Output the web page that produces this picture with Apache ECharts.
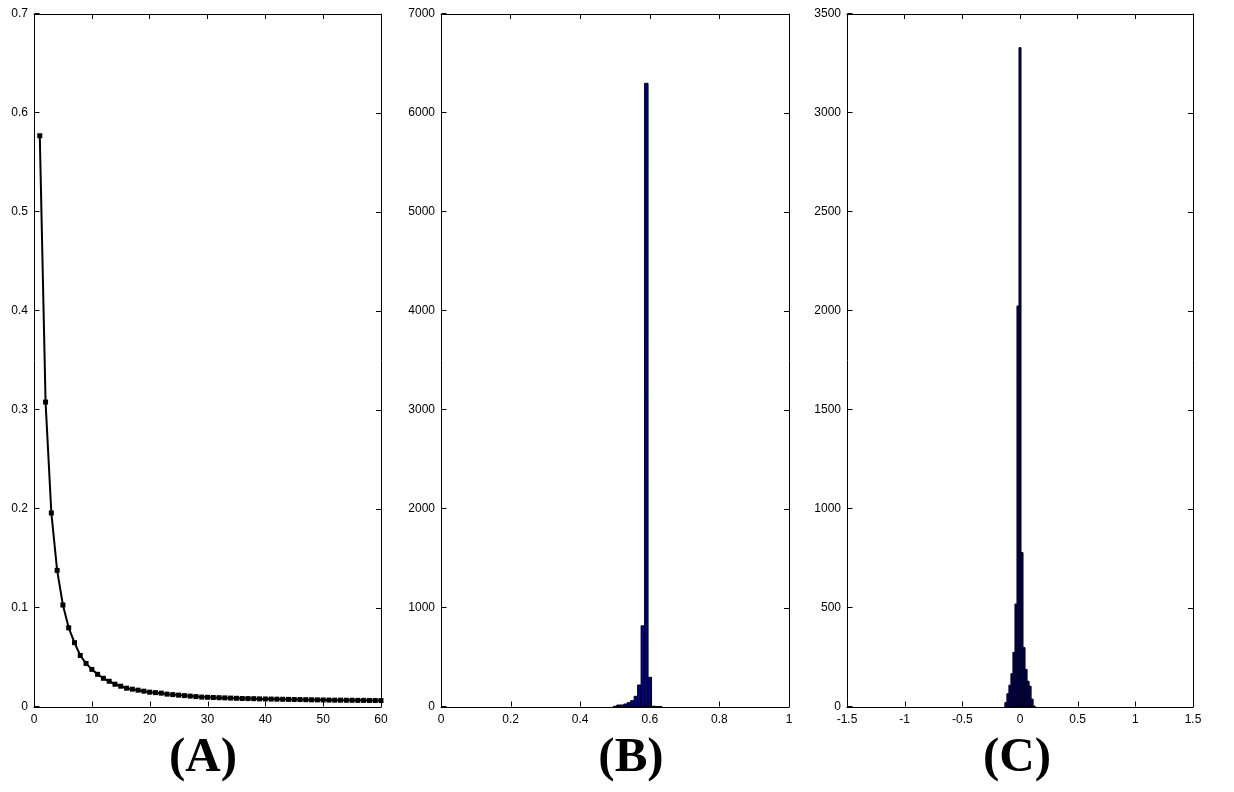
<!DOCTYPE html>
<html>
<head>
<meta charset="utf-8">
<script src="https://cdn.jsdelivr.net/npm/echarts@6/dist/echarts.min.js"></script>
<style>html,body{margin:0;padding:0;background:#fff;}#c{width:1234px;height:792px;}</style>
</head>
<body>
<div id="c"></div>
<script>
// Panel A: decay curve
const aX = [];
for (let i = 1; i <= 60; i++) aX.push(i);
const aY = [0.577,0.308,0.196,0.138,0.103,0.080,0.065,0.052,0.044,0.038,
            0.033,0.029,0.026,0.023,0.021,0.019,0.018,0.017,0.016,0.015,
            0.0145,0.014,0.013,0.0125,0.012,0.0115,0.011,0.0105,0.010,0.0098,
            0.0096,0.0094,0.0092,0.0090,0.0088,0.0086,0.0085,0.0084,0.0082,0.0081,
            0.0080,0.0079,0.0078,0.0077,0.0076,0.0075,0.0074,0.0073,0.0072,0.0071,
            0.0070,0.0069,0.0069,0.0068,0.0068,0.0067,0.0067,0.0066,0.0066,0.0065];

// Panel B: histogram (bin centers, counts)
const bBinWidth = 0.01;
const bCenters = [0.50,0.51,0.52,0.53,0.54,0.55,0.56,0.57,0.58,0.59,0.60,0.61,0.62,0.63];
const bCounts  = [7,20,20,30,44,64,108,222,820,6300,300,8,5,5];

// Panel C: histogram (bin centers, counts)
const cBinWidth = 0.0175;
const cCenters = [-0.1225,-0.105,-0.0875,-0.07,-0.0525,-0.035,-0.0175,0,0.0175,0.035,0.0525,0.07,0.0875,0.105,0.1225];
const cCounts  = [22,67,110,168,276,520,2025,3330,780,300,190,130,105,40,5];

// Tick values
const aXTicks = [0,10,20,30,40,50,60];
const aYTicks = [0,0.1,0.2,0.3,0.4,0.5,0.6,0.7];
const bXTicks = [0,0.2,0.4,0.6,0.8,1];
const bYTicks = [0,1000,2000,3000,4000,5000,6000,7000];
const cXTicks = [-1.5,-1,-0.5,0,0.5,1,1.5];
const cYTicks = [0,500,1000,1500,2000,2500,3000,3500];

const panelLabels = ['(A)', '(B)', '(C)'];

const rects = [
  {left: 34, right: 853, top: 14, bottom: 85},
  {left: 441, right: 445, top: 14, bottom: 85},
  {left: 847, right: 41, top: 14, bottom: 85}
];
const xRanges = [[0, 60, 10], [0, 1, 0.2], [-1.5, 1.5, 0.5]];
const yRanges = [[0, 0.7, 0.1], [0, 7000, 1000], [0, 3500, 500]];
const xTickSets = [aXTicks, bXTicks, cXTicks];
const yTickSets = [aYTicks, bYTicks, cYTicks];
const TICK = 5;

const fmt = v => String(Math.round(v * 1000) / 1000);
function labelFont(margin) {
  return {show: true, margin, color: '#000', fontFamily: 'Liberation Sans, Arial, sans-serif', fontSize: 12, formatter: fmt};
}
function axis(gi, r, position, labelled, withTicks) {
  return {type: 'value', gridIndex: gi, min: r[0], max: r[1], interval: r[2], position,
    axisLine: {show: true, onZero: false, lineStyle: {color: '#000', width: 1}},
    splitLine: {show: false},
    axisTick: {show: withTicks, inside: true, length: TICK, lineStyle: {color: '#000', width: 1}},
    axisLabel: labelled ? labelFont(position === 'bottom' ? 7 : 6) : {show: false}};
}

const grid = [], xAxis = [], yAxis = [];
for (let p = 0; p < 3; p++) {
  grid.push(Object.assign({show: false}, rects[p]));
  xAxis.push(axis(p, xRanges[p], 'bottom', true, false));
  xAxis.push(axis(p, xRanges[p], 'top', false, true));
  yAxis.push(axis(p, yRanges[p], 'left', true, false));
  yAxis.push(axis(p, yRanges[p], 'right', false, true));
}

function histRender(binW) {
  return function (params, api) {
    const x = api.value(0), y = api.value(1);
    const p0 = api.coord([x - binW / 2, y]);
    const p1 = api.coord([x + binW / 2, 0]);
    return {
      type: 'rect',
      shape: {x: p0[0], y: p0[1], width: p1[0] - p0[0], height: p1[1] - p0[1]},
      style: {fill: '#00008F', stroke: '#000', lineWidth: 1}
    };
  };
}
// inward ticks for bottom (dir 'x') and left (dir 'y') sides
function tickRender(dir) {
  return function (params, api) {
    const p = api.coord([api.value(0), api.value(1)]);
    let shape;
    if (dir === 'x') {
      const x = Math.round(p[0]) + 0.5, y = Math.round(p[1]) - 0.5;
      shape = {x1: x, y1: y, x2: x, y2: y - TICK};
    } else {
      const x = Math.round(p[0]) + 0.5, y = Math.round(p[1]) - 0.5;
      shape = {x1: x, y1: y, x2: x + TICK, y2: y};
    }
    return {type: 'line', shape, style: {stroke: '#000', lineWidth: 1}};
  };
}

const series = [
  {type: 'line', xAxisIndex: 0, yAxisIndex: 0,
   data: aX.map((x, i) => [x, aY[i]]),
   symbol: 'rect', symbolSize: 5, showSymbol: true,
   lineStyle: {color: '#000', width: 2},
   itemStyle: {color: '#000'}},
  {type: 'custom', xAxisIndex: 2, yAxisIndex: 2,
   renderItem: histRender(bBinWidth),
   encode: {x: 0, y: 1},
   data: bCenters.map((c, i) => [c, bCounts[i]])},
  {type: 'custom', xAxisIndex: 4, yAxisIndex: 4,
   renderItem: histRender(cBinWidth),
   encode: {x: 0, y: 1},
   data: cCenters.map((c, i) => [c, cCounts[i]])}
];
for (let p = 0; p < 3; p++) {
  series.push({type: 'custom', xAxisIndex: 2 * p, yAxisIndex: 2 * p, silent: true, z: 5,
    renderItem: tickRender('x'), encode: {x: 0, y: 1},
    data: xTickSets[p].map(v => [v, yRanges[p][0]])});
  series.push({type: 'custom', xAxisIndex: 2 * p, yAxisIndex: 2 * p, silent: true, z: 5,
    renderItem: tickRender('y'), encode: {x: 0, y: 1},
    data: yTickSets[p].map(v => [xRanges[p][0], v])});
}

const chart = echarts.init(document.getElementById('c'), null, {renderer: 'canvas'});
const option = {
  animation: false,
  backgroundColor: '#fff',
  grid, xAxis, yAxis,
  title: [
    {text: panelLabels[0], left: 198, top: 729},
    {text: panelLabels[1], left: 626, top: 729},
    {text: panelLabels[2], left: 1012, top: 729}
  ].map(t => Object.assign(t, {textAlign: 'center',
    textStyle: {fontFamily: 'Liberation Serif, Times New Roman, serif', fontWeight: 'bold', fontSize: 49, color: '#000'}})),
  series
};
chart.setOption(option);
</script>
</body>
</html>
